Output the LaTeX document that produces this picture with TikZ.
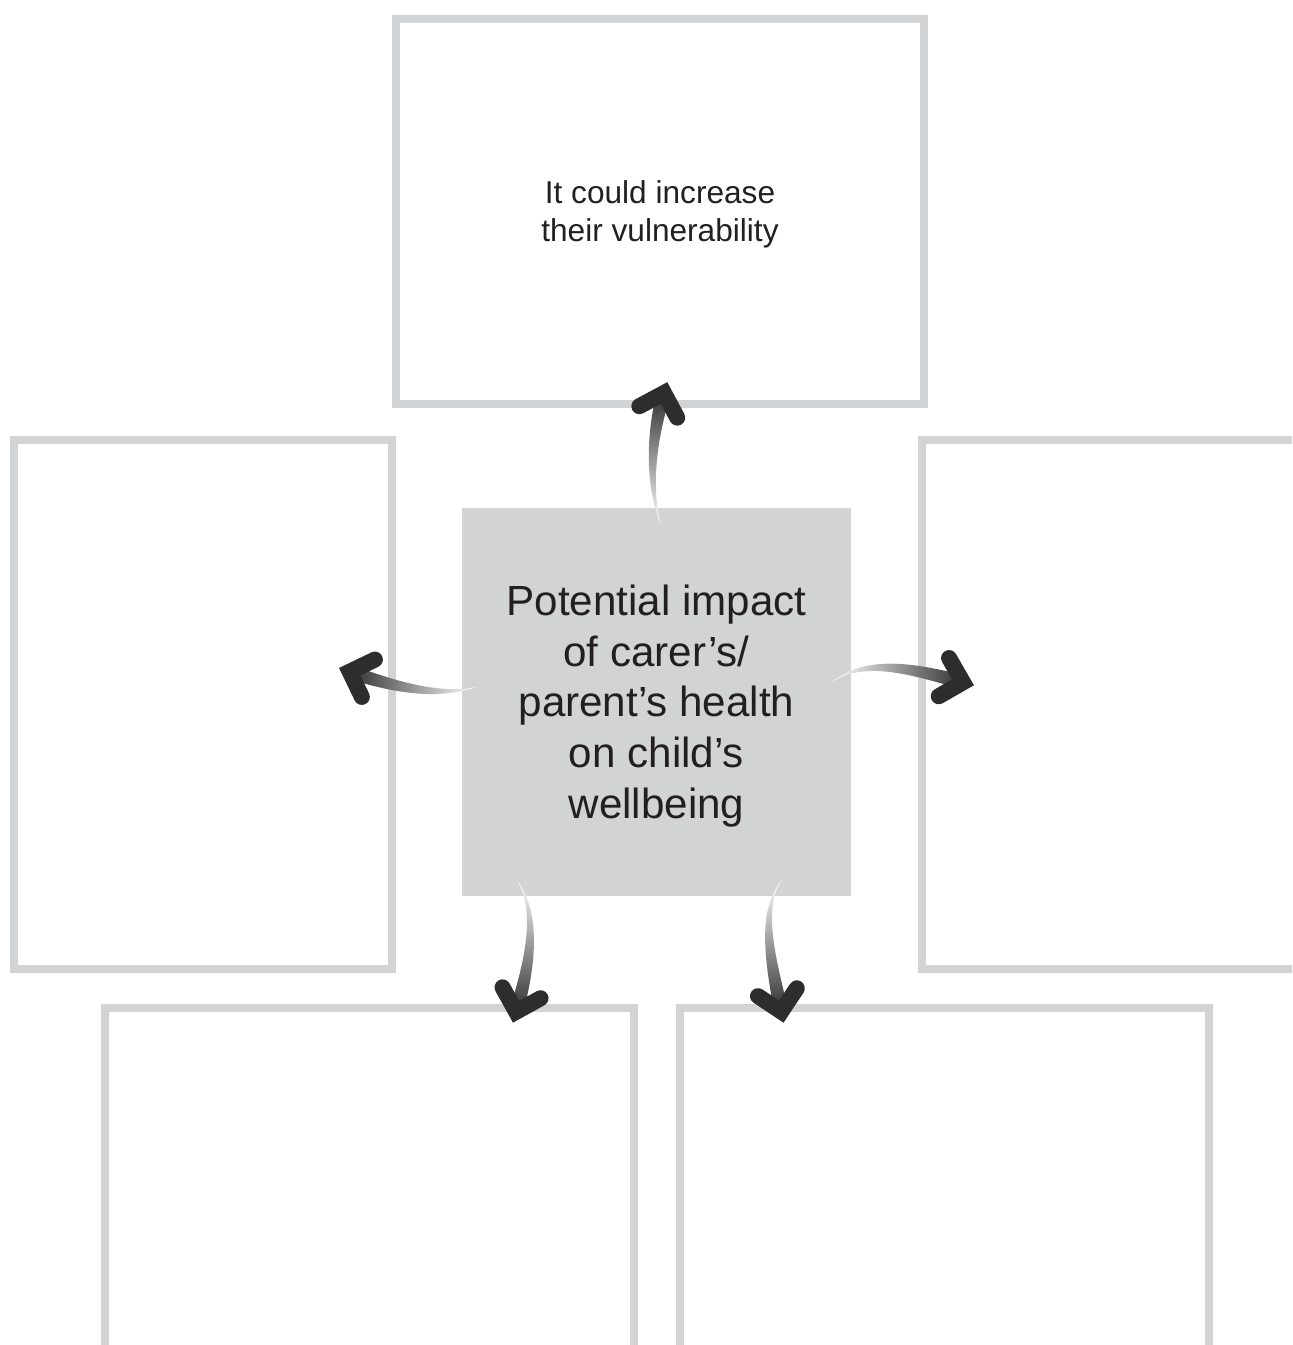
\documentclass[tikz,border=0pt]{standalone}
\usepackage{fontspec}
\setmainfont{Liberation Sans}
\usetikzlibrary{calc}

\definecolor{boxgray}{HTML}{D1D3D4}
\definecolor{inkdark}{HTML}{231F20}
\definecolor{arrowdark}{HTML}{2D2D2D}

% tapered shaded shaft from (#1-s) to (#1-t), head at (#1-t)
\newcommand{\bentarrow}[2]{%
    \shade[shaft, shading angle = #2] (#1-s)
        .. controls ($(#1-1)!0.06cm!90:(#1-2)$) and ($(#1-2)!0.12cm!90:(#1-t)$) .. ($(#1-t)!0.14cm!-90:(#1-2)$)
        -- ($(#1-t)!0.14cm!90:(#1-2)$)
        .. controls ($(#1-2)!0.12cm!-90:(#1-t)$) and ($(#1-1)!0.06cm!-90:(#1-2)$) .. (#1-s) -- cycle;
    \draw[head] ($(#1-t)!0.56cm!45:(#1-2)$) -- (#1-t) -- ($(#1-t)!0.56cm!-45:(#1-2)$);
}

\begin{document}
\begin{tikzpicture}[
            x = 0.02cm, y = -0.02cm, % one unit = one pixel, y down
            card/.style = {draw = boxgray, line width = 0.16cm, rectangle, inner sep = 0pt},
            hub/.style = {fill = boxgray, rectangle, inner sep = 0pt, align = center,
                text = inkdark, font = \fontsize{24}{29}\selectfont},
            shaft/.style = {top color = arrowdark, bottom color = white},
            head/.style = {draw = arrowdark, line width = 0.32cm, line cap = round, line join = miter}
        ]

        \useasboundingbox (0,0) rectangle (1292,1345);
        \clip (0,0) rectangle (1292,1345);

        \node (top) [card, minimum width = 10.56cm, minimum height = 7.7cm, align = center,
            text = inkdark, font = \fontsize{18}{21.5}\selectfont] at (660,211.5)
            {\rule{0pt}{16pt}It could increase\\their vulnerability};
        \node (left) [card, minimum width = 7.56cm, minimum height = 10.58cm] at (203,704.5) {};
        \node (right) [card, minimum width = 7.56cm, minimum height = 10.58cm] at (1111,704.5) {};
        \node (botleft) [card, minimum width = 10.58cm, minimum height = 10.58cm] at (369.5,1272.5) {};
        \node (botright) [card, minimum width = 10.58cm, minimum height = 10.58cm] at (944.5,1272.5) {};
        \node (hub) [hub, minimum width = 7.78cm, minimum height = 7.76cm] at (656.5,702)
            {\rule{0pt}{22pt}Potential impact\\of carer’s/\\parent’s health\\on child’s\\wellbeing};

        % arrows: start, two bends, tip
        \coordinate (up-s) at (661,525);  \coordinate (up-1) at (647,485);
        \coordinate (up-2) at (652.4,431.4); \coordinate (up-t) at (664,393);
        \coordinate (rt-s) at (832,682);  \coordinate (rt-1) at (865,658);
        \coordinate (rt-2) at (910,668); \coordinate (rt-t) at (963,682.3);
        \coordinate (lf-s) at (477,687);  \coordinate (lf-1) at (440,697);
        \coordinate (lf-2) at (396.9,688.2); \coordinate (lf-t) at (349.7,671.7);
        \coordinate (dl-s) at (517,880);  \coordinate (dl-1) at (540,915);
        \coordinate (dl-2) at (528.5,968.5); \coordinate (dl-t) at (516.1,1011.8);
        \coordinate (dr-s) at (782,880);  \coordinate (dr-1) at (758,910);
        \coordinate (dr-2) at (772.4,967.5); \coordinate (dr-t) at (781.3,1011.6);

        \bentarrow{up}{0}
        \bentarrow{rt}{270}
        \bentarrow{lf}{90}
        \bentarrow{dl}{180}
        \bentarrow{dr}{180}

    \end{tikzpicture}
\end{document}
